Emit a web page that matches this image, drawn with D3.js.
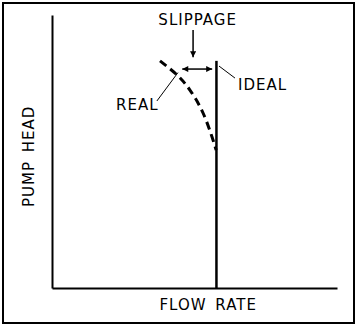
<!DOCTYPE html>
<html>
<head>
<meta charset="utf-8">
<script src="https://cdn.jsdelivr.net/npm/d3@7"></script>
<style>
  body { margin: 0; background: #fff; }
  text { font-family: "DejaVu Sans", sans-serif; font-size: 15px; letter-spacing: 1px; word-spacing: 3px; fill: #000; }
</style>
</head>
<body>
<svg width="358" height="326"></svg>
<script>
// idealised pump curve, values in percent of axis length
var idealFlow = 57.7;
var idealTop = 83.2;
var realFlow = [37.9, 43.9, 48.4, 53.0, 56.5, 57.6];
var realHead = [83.2, 78.0, 72.5, 64.1, 54.2, 50.5];
var slipFrom = 45.7, slipTo = 56.2, slipHead = 80.2;

var svg = d3.select("svg");
var margin = {"top": 15, "bottom": 38, "left": 52, "right": 21};
var width = +svg.attr("width") - margin.left - margin.right;
var height = +svg.attr("height") - margin.top - margin.bottom;

var x = d3.scaleLinear().domain([0, 100]).range([0, width]),
    y = d3.scaleLinear().domain([0, 100]).range([height, 0]);

var defs = svg.append("defs");
defs.append("marker")
    .attr("id", "head")
    .attr("viewBox", "0 0 10 10")
    .attr("refX", 10).attr("refY", 5)
    .attr("markerWidth", 8).attr("markerHeight", 6)
    .attr("markerUnits", "userSpaceOnUse")
    .attr("orient", "auto-start-reverse")
  .append("path")
    .attr("d", "M0,0 L10,5 L0,10 Z")
    .attr("fill", "#000");

// outer frame
svg.append("rect")
    .attr("x", 3).attr("y", 3)
    .attr("width", 351).attr("height", 320)
    .attr("fill", "none").attr("stroke", "#000").attr("stroke-width", 2);

var container = svg.append("g")
    .attr("transform", "translate(" + margin.left + "," + margin.top + ")");

// axes
var yAxis = container.append("g").attr("class", "y_axis")
    .call(d3.axisLeft(y).ticks(0).tickSize(0).tickSizeOuter(0));
var xAxis = container.append("g").attr("class", "x_axis")
    .attr("transform", "translate(0," + height + ")")
    .call(d3.axisBottom(x).ticks(0).tickSize(0).tickSizeOuter(0));
container.selectAll(".domain").attr("stroke", "#000").attr("stroke-width", 2);

// ideal line
container.append("line")
    .attr("x1", x(idealFlow)).attr("x2", x(idealFlow))
    .attr("y1", y(0)).attr("y2", y(idealTop))
    .attr("stroke", "#000").attr("stroke-width", 2.5);

// real curve
var realData = realFlow.map(function(d, i) { return {flow: d, head: realHead[i]}; });
var theline = d3.line()
    .x(function(d) { return x(d.flow); })
    .y(function(d) { return y(d.head); })
    .curve(d3.curveNatural);
container.append("path")
    .datum(realData)
    .attr("d", theline)
    .attr("fill", "none")
    .attr("stroke", "#000")
    .attr("stroke-width", 3)
    .attr("stroke-dasharray", "8,5");

// slippage double arrow
container.append("line")
    .attr("x1", x(slipFrom)).attr("x2", x(slipTo))
    .attr("y1", y(slipHead)).attr("y2", y(slipHead))
    .attr("stroke", "#000").attr("stroke-width", 1.5)
    .attr("marker-start", "url(#head)")
    .attr("marker-end", "url(#head)");

// slippage pointer
container.append("line")
    .attr("x1", x(49.5)).attr("x2", x(49.5))
    .attr("y1", y(94.5)).attr("y2", y(84.5))
    .attr("stroke", "#000").attr("stroke-width", 1.5)
    .attr("marker-end", "url(#head)");

// leaders
container.append("line")
    .attr("x1", x(58.6)).attr("y1", y(81.3))
    .attr("x2", x(64.2)).attr("y2", y(76.9))
    .attr("stroke", "#000").attr("stroke-width", 1);
container.append("line")
    .attr("x1", x(36.8)).attr("y1", y(68.5))
    .attr("x2", x(44.2)).attr("y2", y(78.9))
    .attr("stroke", "#000").attr("stroke-width", 1);

// labels
container.append("text")
    .attr("x", x(51.1)).attr("y", y(96.3))
    .attr("text-anchor", "middle")
    .text("SLIPPAGE");
container.append("text")
    .attr("x", x(65.3)).attr("y", y(72.5))
    .text("IDEAL");
container.append("text")
    .attr("x", x(37.4)).attr("y", y(65.2))
    .attr("text-anchor", "end")
    .text("REAL");

xAxis.append("text")
    .attr("x", x(54.8)).attr("y", 22)
    .attr("text-anchor", "middle")
    .text("FLOW RATE");
yAxis.append("text")
    .attr("transform", "rotate(-90)")
    .attr("x", -(y(48.2)))
    .attr("y", -18)
    .attr("text-anchor", "middle")
    .text("PUMP HEAD");
</script>
</body>
</html>
